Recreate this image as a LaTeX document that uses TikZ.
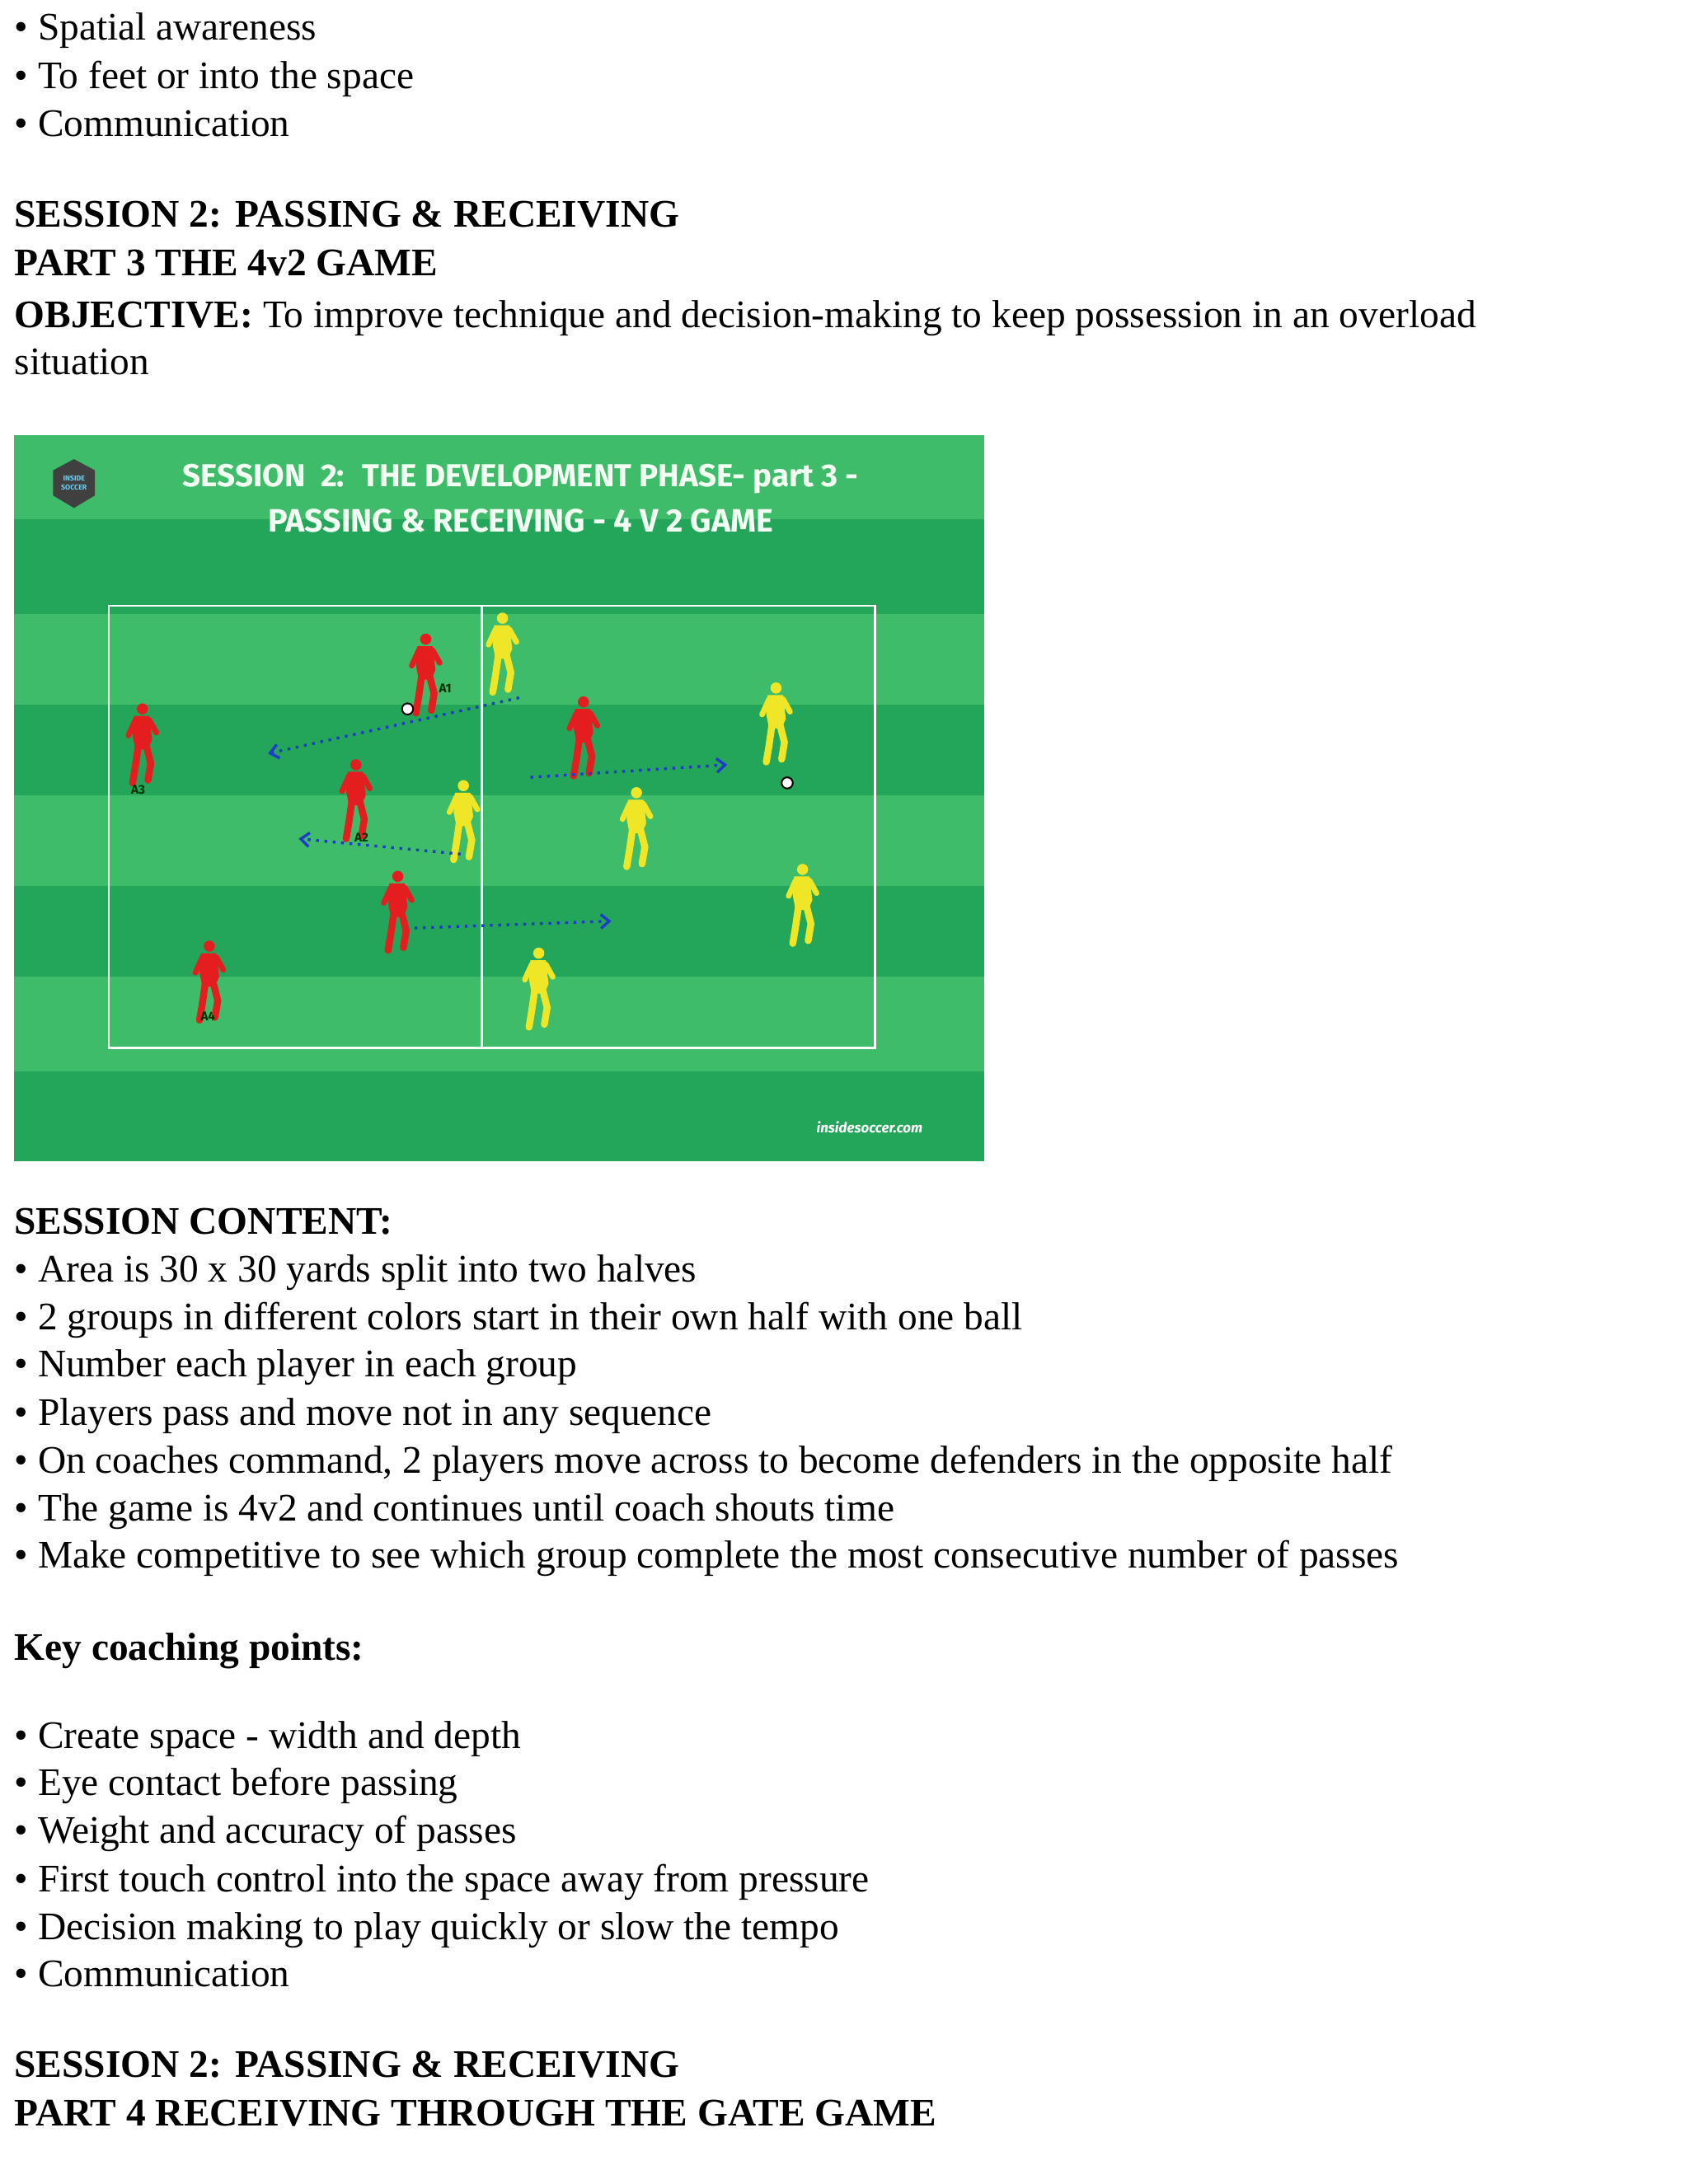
\documentclass[tikz,border=0pt]{standalone}
\usepackage{fontspec}
\setmainfont{Liberation Serif}
\newfontfamily\titlefont{Fira Sans}
\usetikzlibrary{arrows.meta}
\definecolor{lgreen}{RGB}{62,188,106}
\definecolor{dgreen}{RGB}{36,166,90}
\definecolor{pred}{RGB}{228,30,30}
\definecolor{pyel}{RGB}{240,230,40}
\definecolor{pblue}{RGB}{30,60,200}
\tikzset{
 txt/.style={anchor=mid west,inner sep=0pt,font=\fontsize{14}{16}\selectfont},
 btxt/.style={txt,font=\fontsize{14}{16}\selectfont\bfseries},
 lbl/.style={font=\titlefont\bfseries\fontsize{4.5}{5}\selectfont,text=black!80!green,inner sep=0pt},
 pass/.style={pblue,line width=1pt,dotted,-{Straight Barb[length=3pt,width=5pt]}},
 ball/.style={circle,draw=black,fill=white,line width=0.6pt,minimum size=4pt,inner sep=0pt},
 player/.pic={
  \fill (0,-27) circle (4);
  \fill (-6,-22) -- (5,-22) -- (7,-5) -- (4,2) -- (-5,2) -- (-7,-8) -- cycle;
  \draw[line width=2pt,line cap=round] (-5,-19) -- (-10,-8);
  \draw[line width=2pt,line cap=round] (5,-19) -- (10,-10);
  \draw[line width=2.5pt,line cap=round] (-3,0) -- (-5,14) -- (-7,26);
  \draw[line width=2.5pt,line cap=round] (3,0) -- (6,12) -- (4,24);
 }
}
\begin{document}
\begin{tikzpicture}[x=0.5pt,y=-0.5pt]
\useasboundingbox (0,0) rectangle (1210,1565);
\fill[white] (0,0) rectangle (1210,1565);
\node[txt] (l1) at (10,24) {• Spatial awareness};
\node[txt] (l2) at (10,59) {• To feet or into the space};
\node[txt] (l3) at (10,93) {• Communication};
\node[btxt] (h1) at (10,158) {SESSION 2: PASSING \& RECEIVING};
\node[btxt] (h2) at (10,193) {PART 3 THE 4v2 GAME};
\node[txt] (o1) at (10,230) {\textbf{OBJECTIVE:} To improve technique and decision-making to keep possession in an overload};
\node[txt] (o2) at (10,264) {situation};
% diagram
\fill[lgreen] (10,312) rectangle (705,832);
\foreach \a/\b in {372/440,505/570,635/700,768/832}{\fill[dgreen] (10,\a) rectangle (705,\b);}
\draw[white,line width=0.8pt] (78,434) rectangle (627,751);
\draw[white,line width=0.8pt] (345,434) -- (345,751);
\fill[black!75] (53,329) -- (68,337) -- (68,355) -- (53,364) -- (38,355) -- (38,337) -- cycle;
\node[font=\titlefont\bfseries\fontsize{2.6}{3}\selectfont,text=cyan!60!white,align=center,inner sep=0pt] (logo) at (53,346) {INSIDE\\SOCCER};
\node[font=\titlefont\bfseries\fontsize{11.5}{13}\selectfont,text=white!95!green,inner sep=0pt] (t1) at (373,343) {\resizebox{242pt}{!}{SESSION \ 2: \ THE DEVELOPMENT PHASE- part 3 -}};
\node[font=\titlefont\bfseries\fontsize{11.5}{13}\selectfont,text=white!95!green,inner sep=0pt] (t2) at (373,373) {\resizebox{181pt}{!}{PASSING \& RECEIVING - 4 V 2 GAME}};
\node[font=\titlefont\bfseries\itshape\fontsize{5}{6}\selectfont,text=white,inner sep=0pt] (web) at (623,808) {insidesoccer.com};
% players
\pic[pred] at (305,485) {player};
\pic[pred] at (102,535) {player};
\pic[pred] at (255,575) {player};
\pic[pred] at (150,705) {player};
\pic[pred] at (418,530) {player};
\pic[pred] at (285,655) {player};
\pic[pyel] at (360,470) {player};
\pic[pyel] at (556,520) {player};
\pic[pyel] at (332,590) {player};
\pic[pyel] at (456,595) {player};
\pic[pyel] at (575,650) {player};
\pic[pyel] at (386,710) {player};
\node[lbl] (a1) at (319,493) {A1};
\node[lbl] (a3) at (99,566) {A3};
\node[lbl] (a2) at (259,600) {A2};
\node[lbl] (a4) at (149,728) {A4};
\node[ball] (b1) at (292,508) {};
\node[ball] (b2) at (564,561) {};
\coordinate (p1s) at (372,500); \coordinate (p1e) at (192,540);
\coordinate (p2s) at (380,557); \coordinate (p2e) at (521,548);
\coordinate (p3s) at (330,612); \coordinate (p3e) at (214,601);
\coordinate (p4s) at (297,665); \coordinate (p4e) at (438,660);
\draw[pass] (p1s) -- (p1e);
\draw[pass] (p2s) -- (p2e);
\draw[pass] (p3s) -- (p3e);
\draw[pass] (p4s) -- (p4e);
% text below
\node[btxt] (sc) at (10,880) {SESSION CONTENT:};
\node[txt] (c1) at (10,914) {• Area is 30 x 30 yards split into two halves};
\node[txt] (c2) at (10,948) {• 2 groups in different colors start in their own half with one ball};
\node[txt] (c3) at (10,982) {• Number each player in each group};
\node[txt] (c4) at (10,1017) {• Players pass and move not in any sequence};
\node[txt] (c5) at (10,1051) {• On coaches command, 2 players move across to become defenders in the opposite half};
\node[txt] (c6) at (10,1085) {• The game is 4v2 and continues until coach shouts time};
\node[txt] (c7) at (10,1119) {• Make competitive to see which group complete the most consecutive number of passes};
\node[btxt] (kc) at (10,1185) {Key coaching points:};
\node[txt] (k1) at (10,1248) {• Create space - width and depth};
\node[txt] (k2) at (10,1282) {• Eye contact before passing};
\node[txt] (k3) at (10,1316) {• Weight and accuracy of passes};
\node[txt] (k4) at (10,1351) {• First touch control into the space away from pressure};
\node[txt] (k5) at (10,1385) {• Decision making to play quickly or slow the tempo};
\node[txt] (k6) at (10,1419) {• Communication};
\node[btxt] (s2) at (10,1484) {SESSION 2: PASSING \& RECEIVING};
\node[btxt] (s3) at (10,1519) {PART 4 RECEIVING THROUGH THE GATE GAME};
\end{tikzpicture}
\end{document}
